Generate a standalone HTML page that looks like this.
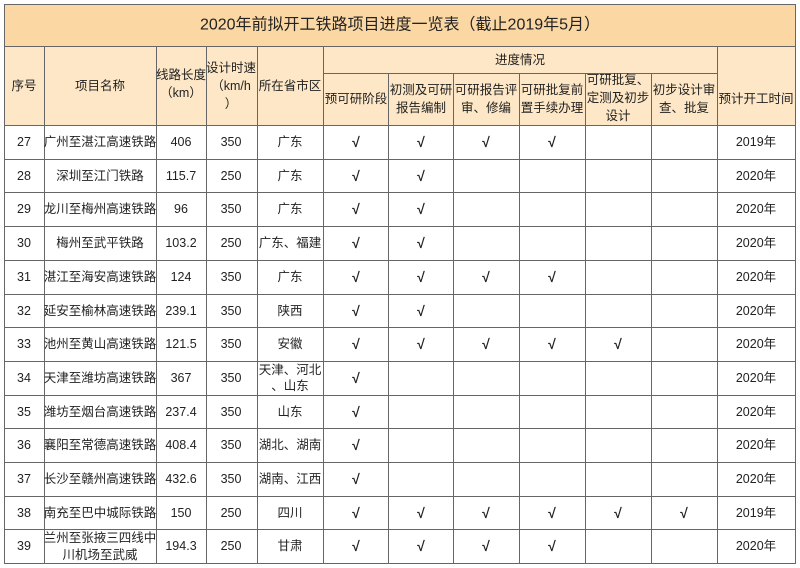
<!DOCTYPE html>
<html><head><meta charset="utf-8"><style>
html,body{margin:0;padding:0;background:#fff;width:800px;height:568px;overflow:hidden}
svg{display:block}
text{font-family:"Liberation Sans","Noto Sans CJK SC",sans-serif;fill:#222;text-anchor:middle;dominant-baseline:central}
</style></head><body>
<svg width="800" height="568" viewBox="0 0 800 568">
<rect x="4" y="4" width="792" height="42" fill="#fbd7a3"/>
<rect x="4" y="46" width="792" height="79" fill="#fde7c6"/>
<text x="400" y="25" font-size="16">2020年前拟开工铁路项目进度一览表（截止2019年5月）</text>
<g stroke="#666" stroke-width="1" fill="none">
<rect x="4.5" y="4.5" width="791" height="559"/>
<line x1="4" y1="46.5" x2="796" y2="46.5"/>
<line x1="323" y1="73.5" x2="717" y2="73.5"/>
<line x1="4" y1="125.5" x2="796" y2="125.5"/>
<line x1="4" y1="159.5" x2="796" y2="159.5"/>
<line x1="4" y1="192.5" x2="796" y2="192.5"/>
<line x1="4" y1="226.5" x2="796" y2="226.5"/>
<line x1="4" y1="260.5" x2="796" y2="260.5"/>
<line x1="4" y1="294.5" x2="796" y2="294.5"/>
<line x1="4" y1="327.5" x2="796" y2="327.5"/>
<line x1="4" y1="361.5" x2="796" y2="361.5"/>
<line x1="4" y1="395.5" x2="796" y2="395.5"/>
<line x1="4" y1="428.5" x2="796" y2="428.5"/>
<line x1="4" y1="462.5" x2="796" y2="462.5"/>
<line x1="4" y1="496.5" x2="796" y2="496.5"/>
<line x1="4" y1="529.5" x2="796" y2="529.5"/>
<line x1="44.5" y1="46" x2="44.5" y2="564"/>
<line x1="156.5" y1="46" x2="156.5" y2="564"/>
<line x1="206.5" y1="46" x2="206.5" y2="564"/>
<line x1="257.5" y1="46" x2="257.5" y2="564"/>
<line x1="323.5" y1="46" x2="323.5" y2="564"/>
<line x1="388.5" y1="73" x2="388.5" y2="564"/>
<line x1="453.5" y1="73" x2="453.5" y2="564"/>
<line x1="519.5" y1="73" x2="519.5" y2="564"/>
<line x1="585.5" y1="73" x2="585.5" y2="564"/>
<line x1="651.5" y1="73" x2="651.5" y2="564"/>
<line x1="717.5" y1="46" x2="717.5" y2="564"/>
</g>
<g font-size="12.5">
<text x="24" y="86">序号</text>
<text x="100" y="86">项目名称</text>
<text x="181" y="75">线路长度</text>
<text x="181" y="93">（km）</text>
<text x="231" y="68">设计时速</text>
<text x="231" y="86">（km/h</text>
<text x="231" y="104">）</text>
<text x="290" y="86">所在省市区</text>
<text x="520" y="60">进度情况</text>
<text x="356" y="99">预可研阶段</text>
<text x="421" y="90">初测及可研</text><text x="421" y="108">报告编制</text>
<text x="486" y="90">可研报告评</text><text x="486" y="108">审、修编</text>
<text x="552" y="90">可研批复前</text><text x="552" y="108">置手续办理</text>
<text x="618" y="80">可研批复、</text><text x="618" y="98">定测及初步</text><text x="618" y="116">设计</text>
<text x="684" y="90">初步设计审</text><text x="684" y="108">查、批复</text>
<text x="756" y="99">预计开工时间</text>
</g>
<g font-size="12.5">
<text x="24" y="142">27</text><text x="100" y="142">广州至湛江高速铁路</text><text x="181" y="142">406</text><text x="231" y="142">350</text><text x="290" y="142">广东</text><text x="756" y="142">2019年</text>
<text x="24" y="176">28</text><text x="100" y="176">深圳至江门铁路</text><text x="181" y="176">115.7</text><text x="231" y="176">250</text><text x="290" y="176">广东</text><text x="756" y="176">2020年</text>
<text x="24" y="209">29</text><text x="100" y="209">龙川至梅州高速铁路</text><text x="181" y="209">96</text><text x="231" y="209">350</text><text x="290" y="209">广东</text><text x="756" y="209">2020年</text>
<text x="24" y="243">30</text><text x="100" y="243">梅州至武平铁路</text><text x="181" y="243">103.2</text><text x="231" y="243">250</text><text x="290" y="243">广东、福建</text><text x="756" y="243">2020年</text>
<text x="24" y="277">31</text><text x="100" y="277">湛江至海安高速铁路</text><text x="181" y="277">124</text><text x="231" y="277">350</text><text x="290" y="277">广东</text><text x="756" y="277">2020年</text>
<text x="24" y="311">32</text><text x="100" y="311">延安至榆林高速铁路</text><text x="181" y="311">239.1</text><text x="231" y="311">350</text><text x="290" y="311">陕西</text><text x="756" y="311">2020年</text>
<text x="24" y="344">33</text><text x="100" y="344">池州至黄山高速铁路</text><text x="181" y="344">121.5</text><text x="231" y="344">350</text><text x="290" y="344">安徽</text><text x="756" y="344">2020年</text>
<text x="24" y="378">34</text><text x="100" y="378">天津至潍坊高速铁路</text><text x="181" y="378">367</text><text x="231" y="378">350</text><text x="290" y="370">天津、河北</text><text x="290" y="386">、山东</text><text x="756" y="378">2020年</text>
<text x="24" y="412">35</text><text x="100" y="412">潍坊至烟台高速铁路</text><text x="181" y="412">237.4</text><text x="231" y="412">350</text><text x="290" y="412">山东</text><text x="756" y="412">2020年</text>
<text x="24" y="445">36</text><text x="100" y="445">襄阳至常德高速铁路</text><text x="181" y="445">408.4</text><text x="231" y="445">350</text><text x="290" y="445">湖北、湖南</text><text x="756" y="445">2020年</text>
<text x="24" y="479">37</text><text x="100" y="479">长沙至赣州高速铁路</text><text x="181" y="479">432.6</text><text x="231" y="479">350</text><text x="290" y="479">湖南、江西</text><text x="756" y="479">2020年</text>
<text x="24" y="513">38</text><text x="100" y="513">南充至巴中城际铁路</text><text x="181" y="513">150</text><text x="231" y="513">250</text><text x="290" y="513">四川</text><text x="756" y="513">2019年</text>
<text x="24" y="546">39</text><text x="100" y="538">兰州至张掖三四线中</text><text x="100" y="555">川机场至武威</text><text x="181" y="546">194.3</text><text x="231" y="546">250</text><text x="290" y="546">甘肃</text><text x="756" y="546">2020年</text>
</g>
<g font-size="14" font-weight="bold">
<text x="356" y="142">√</text><text x="421" y="142">√</text><text x="486" y="142">√</text><text x="552" y="142">√</text>
<text x="356" y="176">√</text><text x="421" y="176">√</text>
<text x="356" y="209">√</text><text x="421" y="209">√</text>
<text x="356" y="243">√</text><text x="421" y="243">√</text>
<text x="356" y="277">√</text><text x="421" y="277">√</text><text x="486" y="277">√</text><text x="552" y="277">√</text>
<text x="356" y="311">√</text><text x="421" y="311">√</text>
<text x="356" y="344">√</text><text x="421" y="344">√</text><text x="486" y="344">√</text><text x="552" y="344">√</text><text x="618" y="344">√</text>
<text x="356" y="378">√</text>
<text x="356" y="412">√</text>
<text x="356" y="445">√</text>
<text x="356" y="479">√</text>
<text x="356" y="513">√</text><text x="421" y="513">√</text><text x="486" y="513">√</text><text x="552" y="513">√</text><text x="618" y="513">√</text><text x="684" y="513">√</text>
<text x="356" y="546">√</text><text x="421" y="546">√</text><text x="486" y="546">√</text><text x="552" y="546">√</text>
</g>
</svg>
</body></html>
